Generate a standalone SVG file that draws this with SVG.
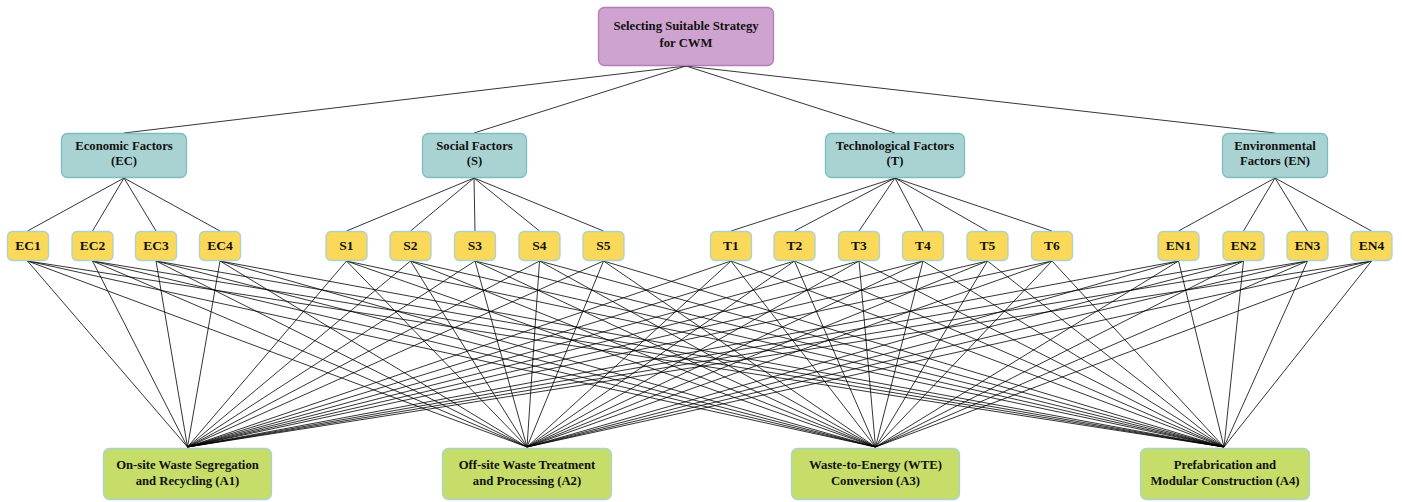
<svg xmlns="http://www.w3.org/2000/svg" width="1402" height="502" viewBox="0 0 1402 502">
<style>
text{font-family:"Liberation Serif","Times New Roman",serif;font-weight:bold;fill:#111;text-anchor:middle}
.t{font-size:12.7px}
.s{font-size:13.5px}
.top{fill:#cfa3cf;stroke:#b47db8;stroke-width:1.3}
.fac{fill:#a9d3d3;stroke:#7dbdbd;stroke-width:1.3}
.sub{fill:#fad95a;stroke:#a9d3cc;stroke-width:1.3}
.alt{fill:#c6dd6a;stroke:#a9d3cc;stroke-width:1.3}
#connectors line{stroke:#000;stroke-width:0.8}
</style>
<rect width="1402" height="502" fill="#fff"/>
<g id="connectors">
<line x1="686" y1="66" x2="124" y2="133"/>
<line x1="686" y1="66" x2="474" y2="133"/>
<line x1="686" y1="66" x2="895" y2="133"/>
<line x1="686" y1="66" x2="1275" y2="133"/>
<line x1="124" y1="178" x2="27.5" y2="231"/>
<line x1="124" y1="178" x2="92.5" y2="231"/>
<line x1="124" y1="178" x2="156" y2="231"/>
<line x1="124" y1="178" x2="220" y2="231"/>
<line x1="474" y1="178" x2="346.5" y2="231"/>
<line x1="474" y1="178" x2="410.5" y2="231"/>
<line x1="474" y1="178" x2="475" y2="231"/>
<line x1="474" y1="178" x2="539.5" y2="231"/>
<line x1="474" y1="178" x2="603.5" y2="231"/>
<line x1="895" y1="178" x2="731" y2="231"/>
<line x1="895" y1="178" x2="794.5" y2="231"/>
<line x1="895" y1="178" x2="859" y2="231"/>
<line x1="895" y1="178" x2="923" y2="231"/>
<line x1="895" y1="178" x2="987.5" y2="231"/>
<line x1="895" y1="178" x2="1052" y2="231"/>
<line x1="1275" y1="178" x2="1178.5" y2="231"/>
<line x1="1275" y1="178" x2="1243.5" y2="231"/>
<line x1="1275" y1="178" x2="1307.5" y2="231"/>
<line x1="1275" y1="178" x2="1371.5" y2="231"/>
<line x1="27.5" y1="261" x2="187.5" y2="447"/><line x1="27.5" y1="261" x2="527" y2="447"/><line x1="27.5" y1="261" x2="875.5" y2="447"/><line x1="27.5" y1="261" x2="1224" y2="447"/>
<line x1="92.5" y1="261" x2="187.5" y2="447"/><line x1="92.5" y1="261" x2="527" y2="447"/><line x1="92.5" y1="261" x2="875.5" y2="447"/><line x1="92.5" y1="261" x2="1224" y2="447"/>
<line x1="156" y1="261" x2="187.5" y2="447"/><line x1="156" y1="261" x2="527" y2="447"/><line x1="156" y1="261" x2="875.5" y2="447"/><line x1="156" y1="261" x2="1224" y2="447"/>
<line x1="220" y1="261" x2="187.5" y2="447"/><line x1="220" y1="261" x2="527" y2="447"/><line x1="220" y1="261" x2="875.5" y2="447"/><line x1="220" y1="261" x2="1224" y2="447"/>
<line x1="346.5" y1="261" x2="187.5" y2="447"/><line x1="346.5" y1="261" x2="527" y2="447"/><line x1="346.5" y1="261" x2="875.5" y2="447"/><line x1="346.5" y1="261" x2="1224" y2="447"/>
<line x1="410.5" y1="261" x2="187.5" y2="447"/><line x1="410.5" y1="261" x2="527" y2="447"/><line x1="410.5" y1="261" x2="875.5" y2="447"/><line x1="410.5" y1="261" x2="1224" y2="447"/>
<line x1="475" y1="261" x2="187.5" y2="447"/><line x1="475" y1="261" x2="527" y2="447"/><line x1="475" y1="261" x2="875.5" y2="447"/><line x1="475" y1="261" x2="1224" y2="447"/>
<line x1="539.5" y1="261" x2="187.5" y2="447"/><line x1="539.5" y1="261" x2="527" y2="447"/><line x1="539.5" y1="261" x2="875.5" y2="447"/><line x1="539.5" y1="261" x2="1224" y2="447"/>
<line x1="603.5" y1="261" x2="187.5" y2="447"/><line x1="603.5" y1="261" x2="527" y2="447"/><line x1="603.5" y1="261" x2="875.5" y2="447"/><line x1="603.5" y1="261" x2="1224" y2="447"/>
<line x1="731" y1="261" x2="187.5" y2="447"/><line x1="731" y1="261" x2="527" y2="447"/><line x1="731" y1="261" x2="875.5" y2="447"/><line x1="731" y1="261" x2="1224" y2="447"/>
<line x1="794.5" y1="261" x2="187.5" y2="447"/><line x1="794.5" y1="261" x2="527" y2="447"/><line x1="794.5" y1="261" x2="875.5" y2="447"/><line x1="794.5" y1="261" x2="1224" y2="447"/>
<line x1="859" y1="261" x2="187.5" y2="447"/><line x1="859" y1="261" x2="527" y2="447"/><line x1="859" y1="261" x2="875.5" y2="447"/><line x1="859" y1="261" x2="1224" y2="447"/>
<line x1="923" y1="261" x2="187.5" y2="447"/><line x1="923" y1="261" x2="527" y2="447"/><line x1="923" y1="261" x2="875.5" y2="447"/><line x1="923" y1="261" x2="1224" y2="447"/>
<line x1="987.5" y1="261" x2="187.5" y2="447"/><line x1="987.5" y1="261" x2="527" y2="447"/><line x1="987.5" y1="261" x2="875.5" y2="447"/><line x1="987.5" y1="261" x2="1224" y2="447"/>
<line x1="1052" y1="261" x2="187.5" y2="447"/><line x1="1052" y1="261" x2="527" y2="447"/><line x1="1052" y1="261" x2="875.5" y2="447"/><line x1="1052" y1="261" x2="1224" y2="447"/>
<line x1="1178.5" y1="261" x2="187.5" y2="447"/><line x1="1178.5" y1="261" x2="527" y2="447"/><line x1="1178.5" y1="261" x2="875.5" y2="447"/><line x1="1178.5" y1="261" x2="1224" y2="447"/>
<line x1="1243.5" y1="261" x2="187.5" y2="447"/><line x1="1243.5" y1="261" x2="527" y2="447"/><line x1="1243.5" y1="261" x2="875.5" y2="447"/><line x1="1243.5" y1="261" x2="1224" y2="447"/>
<line x1="1307.5" y1="261" x2="187.5" y2="447"/><line x1="1307.5" y1="261" x2="527" y2="447"/><line x1="1307.5" y1="261" x2="875.5" y2="447"/><line x1="1307.5" y1="261" x2="1224" y2="447"/>
<line x1="1371.5" y1="261" x2="187.5" y2="447"/><line x1="1371.5" y1="261" x2="527" y2="447"/><line x1="1371.5" y1="261" x2="875.5" y2="447"/><line x1="1371.5" y1="261" x2="1224" y2="447"/>
</g>
<g id="goal"><rect class="top" x="598.5" y="7.5" width="175" height="58" rx="6"/><text class="t" x="686" y="30">Selecting Suitable Strategy</text><text class="t" x="686" y="47">for CWM</text></g>
<g id="EC"><rect class="fac" x="61.5" y="133.5" width="125" height="44" rx="6"/><text class="t" x="124" y="150">Economic Factors</text><text class="t" x="124" y="165">(EC)</text></g>
<g id="S"><rect class="fac" x="422.5" y="133.5" width="104" height="44" rx="6"/><text class="t" x="474.5" y="150">Social Factors</text><text class="t" x="474.5" y="165">(S)</text></g>
<g id="T"><rect class="fac" x="825.5" y="133.5" width="139" height="44" rx="6"/><text class="t" x="895" y="150">Technological Factors</text><text class="t" x="895" y="165">(T)</text></g>
<g id="EN"><rect class="fac" x="1222.5" y="133.5" width="105" height="44" rx="6"/><text class="t" x="1275" y="150">Environmental</text><text class="t" x="1275" y="165">Factors (EN)</text></g>
<g id="EC1"><rect class="sub" x="7.5" y="231.5" width="41" height="29" rx="5"/><text class="s" x="28" y="250">EC1</text></g>
<g id="EC2"><rect class="sub" x="72" y="231.5" width="41" height="29" rx="5"/><text class="s" x="92.5" y="250">EC2</text></g>
<g id="EC3"><rect class="sub" x="135.5" y="231.5" width="41" height="29" rx="5"/><text class="s" x="156" y="250">EC3</text></g>
<g id="EC4"><rect class="sub" x="199.5" y="231.5" width="41" height="29" rx="5"/><text class="s" x="220" y="250">EC4</text></g>
<g id="S1"><rect class="sub" x="326" y="231.5" width="41" height="29" rx="5"/><text class="s" x="346.5" y="250">S1</text></g>
<g id="S2"><rect class="sub" x="390" y="231.5" width="41" height="29" rx="5"/><text class="s" x="410.5" y="250">S2</text></g>
<g id="S3"><rect class="sub" x="454.5" y="231.5" width="41" height="29" rx="5"/><text class="s" x="475" y="250">S3</text></g>
<g id="S4"><rect class="sub" x="519" y="231.5" width="41" height="29" rx="5"/><text class="s" x="539.5" y="250">S4</text></g>
<g id="S5"><rect class="sub" x="583" y="231.5" width="41" height="29" rx="5"/><text class="s" x="603.5" y="250">S5</text></g>
<g id="T1"><rect class="sub" x="710.5" y="231.5" width="41" height="29" rx="5"/><text class="s" x="731" y="250">T1</text></g>
<g id="T2"><rect class="sub" x="774" y="231.5" width="41" height="29" rx="5"/><text class="s" x="794.5" y="250">T2</text></g>
<g id="T3"><rect class="sub" x="838.5" y="231.5" width="41" height="29" rx="5"/><text class="s" x="859" y="250">T3</text></g>
<g id="T4"><rect class="sub" x="902.5" y="231.5" width="41" height="29" rx="5"/><text class="s" x="923" y="250">T4</text></g>
<g id="T5"><rect class="sub" x="967" y="231.5" width="41" height="29" rx="5"/><text class="s" x="987.5" y="250">T5</text></g>
<g id="T6"><rect class="sub" x="1031.5" y="231.5" width="41" height="29" rx="5"/><text class="s" x="1052" y="250">T6</text></g>
<g id="EN1"><rect class="sub" x="1158" y="231.5" width="41" height="29" rx="5"/><text class="s" x="1178.5" y="250">EN1</text></g>
<g id="EN2"><rect class="sub" x="1223" y="231.5" width="41" height="29" rx="5"/><text class="s" x="1243.5" y="250">EN2</text></g>
<g id="EN3"><rect class="sub" x="1287" y="231.5" width="41" height="29" rx="5"/><text class="s" x="1307.5" y="250">EN3</text></g>
<g id="EN4"><rect class="sub" x="1351" y="231.5" width="41" height="29" rx="5"/><text class="s" x="1371.5" y="250">EN4</text></g>
<g id="A1"><rect class="alt" x="103.5" y="448.5" width="168" height="51" rx="6"/><text class="t" x="187.5" y="469">On-site Waste Segregation</text><text class="t" x="187.5" y="485">and Recycling (A1)</text></g>
<g id="A2"><rect class="alt" x="442.5" y="448.5" width="169" height="51" rx="6"/><text class="t" x="527" y="469">Off-site Waste Treatment</text><text class="t" x="527" y="485">and Processing (A2)</text></g>
<g id="A3"><rect class="alt" x="791.5" y="448.5" width="168" height="51" rx="6"/><text class="t" x="875.5" y="469">Waste-to-Energy (WTE)</text><text class="t" x="875.5" y="485">Conversion (A3)</text></g>
<g id="A4"><rect class="alt" x="1140.5" y="448.5" width="169" height="51" rx="6"/><text class="t" x="1225" y="469">Prefabrication and</text><text class="t" x="1225" y="485">Modular Construction (A4)</text></g>
</svg>
